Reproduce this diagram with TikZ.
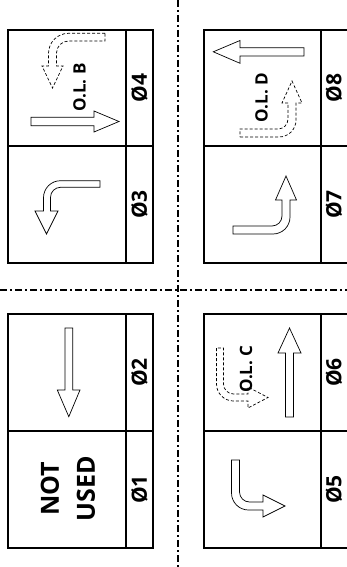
\documentclass[tikz,border=0pt]{standalone}
\usepackage{fontspec}
\setsansfont{Open Sans}
\begin{document}
\begin{tikzpicture}[x=1pt,y=-1pt,
  boxline/.style={line width=1.3pt,black},
  sep/.style={line width=1.4pt,black,dash pattern=on 7pt off 3pt on 2pt off 3pt},
  solidarrow/.style={line width=0.7pt,black,line join=miter},
  dasharrow/.style={line width=0.7pt,black,dash pattern=on 3pt off 2pt},
  phase/.style={rotate=90,font=\sffamily\bfseries\fontsize{21}{24}\selectfont,inner sep=0pt},
  ol/.style={rotate=90,font=\sffamily\bfseries\fontsize{17}{20}\selectfont,inner sep=0pt},
  big/.style={rotate=90,font=\sffamily\bfseries\fontsize{25}{36}\selectfont,align=center,inner sep=0pt}]
\useasboundingbox (0,0) rectangle (347,567);
% separators
\coordinate (vt) at (178,0); \coordinate (vb) at (178,567);
\coordinate (hl) at (0,290); \coordinate (hr) at (347,290);
\draw[sep] (vt) -- (vb);
\draw[sep] (hl) -- (hr);
% boxes
\draw[boxline] (8,30) rectangle (153,263);
\draw[boxline] (126,30) -- (126,263);
\draw[boxline] (8,146) -- (153,146);
\draw[boxline] (204,30) rectangle (349,263);
\draw[boxline] (321,30) -- (321,263);
\draw[boxline] (204,146) -- (349,146);
\draw[boxline] (8,314) rectangle (153,548);
\draw[boxline] (126,314) -- (126,548);
\draw[boxline] (8,431) -- (153,431);
\draw[boxline] (204,314) rectangle (349,548);
\draw[boxline] (321,314) -- (321,548);
\draw[boxline] (204,431) -- (349,431);
% phase labels
\node[phase] (p4) at (139.5,88) {Ø4};
\node[phase] (p3) at (139.5,204.5) {Ø3};
\node[phase] (p2) at (139.5,372.5) {Ø2};
\node[phase] (p1) at (139.5,489.5) {Ø1};
\node[phase] (p8) at (334,88) {Ø8};
\node[phase] (p7) at (334,204.5) {Ø7};
\node[phase] (p6) at (334,372.5) {Ø6};
\node[phase] (p5) at (334,489.5) {Ø5};
% overlap labels
\node[ol] (olb) at (79.5,87.5) {O.L. B};
\node[ol] (old) at (261.5,97.5) {O.L. D};
\node[ol] (olc) at (246,369) {O.L. C};
\node[big] (nu) at (68,489) {NOT\\USED};
% box 4 arrows
\draw[solidarrow] (31,117.2) -- (94,117.2) -- (94,111) -- (119,121.5) -- (94,132) -- (94,125.8) -- (31,125.8) -- cycle;
\draw[dasharrow] (105,33.3) -- (68.5,33.3) .. controls (57.5,33.3) and (48.5,42.3) .. (48.5,53.3) -- (48.5,66) -- (42,66) -- (52.5,88) -- (63,66) -- (56.5,66) -- (56.5,53) .. controls (56.5,46.4) and (61.9,41) .. (68.5,41) -- (105,41) -- cycle;
% box 3 arrow
\draw[solidarrow] (100,180.7) -- (60.5,180.7) .. controls (51.1,180.7) and (43.5,188.3) .. (43.5,197.7) -- (43.5,211) -- (35,211) -- (46.5,234) -- (58,211) -- (50.5,211) -- (50.5,197.3) .. controls (50.5,191.8) and (55,187.3) .. (60.5,187.3) -- (100,187.3) -- cycle;
% box 8 arrows
\draw[solidarrow] (304,47.7) -- (240,47.7) -- (240,40.5) -- (213.3,51.8) -- (240,63.3) -- (240,56) -- (304,56) -- cycle;
\draw[dasharrow] (240,137) -- (279,137) .. controls (288.4,137) and (296,129.4) .. (296,120) -- (296,103) -- (302,103) -- (292,81) -- (282,103) -- (288,103) -- (288,119) .. controls (288,124.5) and (283.5,129) .. (278,129) -- (240,129) -- cycle;
% box 7 arrow
\draw[solidarrow] (233,234) -- (273,234) .. controls (282.4,234) and (290,226.4) .. (290,217) -- (290,200) -- (296.5,200) -- (286,176) -- (275.5,200) -- (282,200) -- (282,216) .. controls (282,221.5) and (277.5,226) .. (272,226) -- (233,226) -- cycle;
% box 2 arrow
\draw[solidarrow] (64.9,328) -- (72.7,328) -- (72.7,390) -- (80,390) -- (68.8,416.7) -- (57.3,390) -- (64.9,390) -- cycle;
% box 6 arrows
\draw[solidarrow] (285.5,417) -- (285.5,353) -- (278,353) -- (289.5,328) -- (301,353) -- (293.5,353) -- (293.5,417) -- cycle;
\draw[dasharrow] (216.5,348) -- (216.5,384) .. controls (216.5,393.4) and (224.1,401) .. (233.5,401) -- (248,401) -- (248,408) -- (268,397.5) -- (248,387) -- (248,394) -- (233.5,394) .. controls (228,394) and (223.5,389.5) .. (223.5,384) -- (223.5,348) -- cycle;
% box 5 arrow
\draw[solidarrow] (231.5,460) -- (231.5,493) .. controls (231.5,502.4) and (239.1,510) .. (248.5,510) -- (263,510) -- (263,517) -- (285,506) -- (263,495) -- (263,502) -- (249.5,502) .. controls (244,502) and (239.5,497.5) .. (239.5,492) -- (239.5,460) -- cycle;
\end{tikzpicture}
\end{document}
